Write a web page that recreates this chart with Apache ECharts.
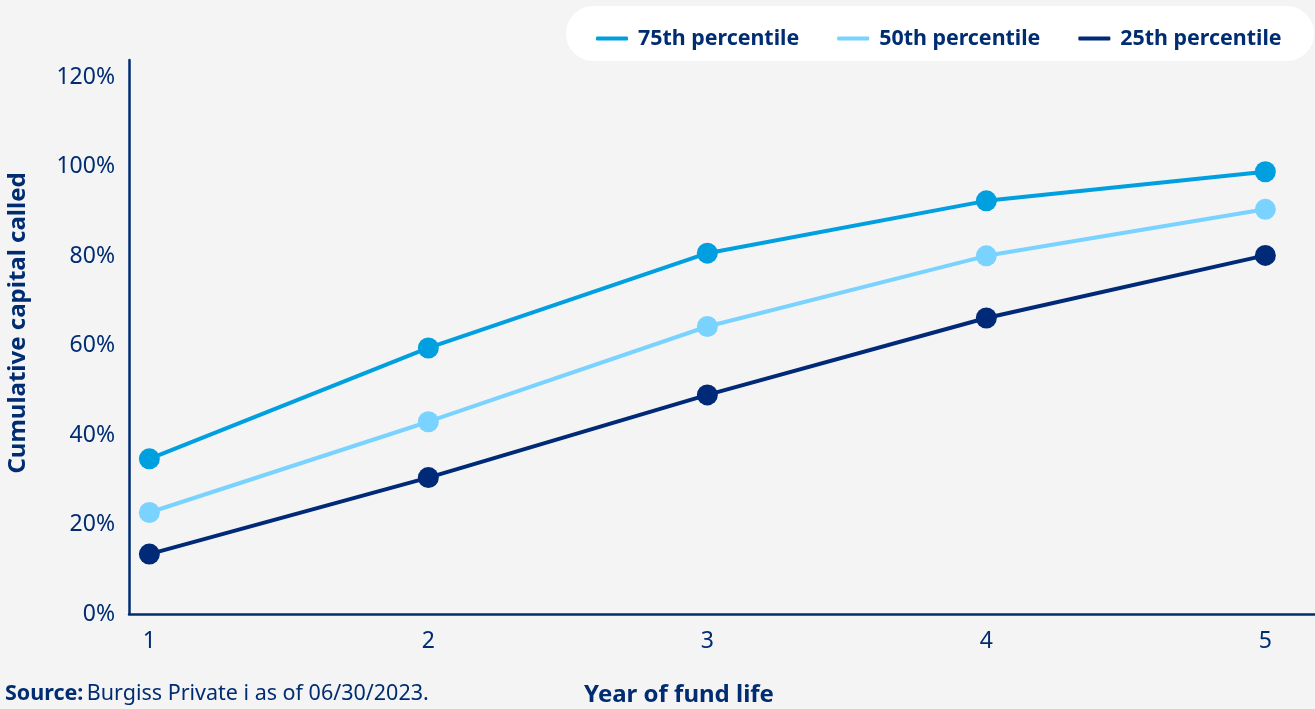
<!DOCTYPE html>
<html>
<head>
<meta charset="utf-8">
<script src="https://cdn.jsdelivr.net/npm/echarts@6/dist/echarts.min.js"></script>
<style>
html,body{margin:0;padding:0;background:#f4f4f4;}
#c{width:1315px;height:709px;}
</style>
</head>
<body>
<div id="c"></div>
<script>
const years = [1, 2, 3, 4, 5];
const yTicks = [0, 20, 40, 60, 80, 100, 120];
const seriesNames = ['75th percentile', '50th percentile', '25th percentile'];
const p75 = [34.7, 59.5, 80.7, 92.4, 98.9];
const p50 = [22.7, 43.0, 64.3, 80.1, 90.5];
const p25 = [13.4, 30.5, 49.0, 66.2, 80.2];
const colors = ['#009fdf', '#7ad3ff', '#002a77'];
const navy = '#002d72';
const font = 'Noto Sans';

const chart = echarts.init(document.getElementById('c'));
function mk(name, vals, color) {
  return {
    name: name, type: 'line',
    data: years.map((y, i) => [y, vals[i]]),
    symbol: 'circle', symbolSize: 21,
    lineStyle: {width: 4, color: color},
    itemStyle: {color: color},
    emphasis: {disabled: true},
    z: 3
  };
}
chart.setOption({
  backgroundColor: '#f4f4f4',
  animation: false,
  textStyle: {fontFamily: font},
  graphic: [{
    type: 'rect', left: 566, top: 6, z: 0,
    shape: {width: 748, height: 55, r: 27},
    style: {fill: '#ffffff'}
  }, {
    type: 'text', x: 5, y: 694,
    style: {
      rich: {
        b: {fontFamily: font, fontWeight: 'bold', fontSize: 21.5, fill: navy},
        r: {fontFamily: font, fontSize: 21.5, fill: navy}
      },
      text: '{b|Source:} {r|Burgiss Private i as of 06/30/2023.}',
      verticalAlign: 'middle', align: 'left'
    }
  }, {
    type: 'text', x: 679, y: 695,
    style: {
      text: 'Year of fund life', fontFamily: font, fontWeight: 'bold', fontSize: 24, fill: navy,
      align: 'center', verticalAlign: 'middle'
    }
  }, {
    type: 'text', x: 18, y: 323, rotation: Math.PI / 2,
    style: {
      text: 'Cumulative capital called', fontFamily: font, fontWeight: 'bold', fontSize: 24, fill: navy,
      align: 'center', verticalAlign: 'middle'
    }
  }],
  legend: {
    data: seriesNames,
    top: 23, left: 591,
    itemWidth: 32, itemHeight: 4, itemGap: 38,
    icon: 'roundRect',
    textStyle: {color: navy, fontSize: 21.4, fontWeight: 'bold', fontFamily: font, padding: [0, 0, 0, 5]},
    itemStyle: {borderWidth: 0}
  },
  grid: {left: 129, right: 0, top: 60, bottom: 95, containLabel: false, outerBoundsMode: 'none'},
  xAxis: {
    type: 'value', min: 0.927, max: 5.178,
    axisLine: {show: true, lineStyle: {color: navy, width: 2.5}},
    axisTick: {show: false},
    splitLine: {show: false},
    axisLabel: {customValues: years, color: navy, fontSize: 23, fontFamily: font, margin: 16, formatter: v => String(v)}
  },
  yAxis: {
    type: 'value', min: 0, max: 123.9, interval: 20,
    axisLine: {show: true, lineStyle: {color: navy, width: 2.5}},
    axisTick: {show: false},
    splitLine: {show: false},
    axisLabel: {customValues: yTicks, color: navy, fontSize: 23, fontFamily: font, margin: 14, formatter: v => v + '%'}
  },
  series: [mk(seriesNames[0], p75, colors[0]), mk(seriesNames[1], p50, colors[1]), mk(seriesNames[2], p25, colors[2])]
});
</script>
</body>
</html>
